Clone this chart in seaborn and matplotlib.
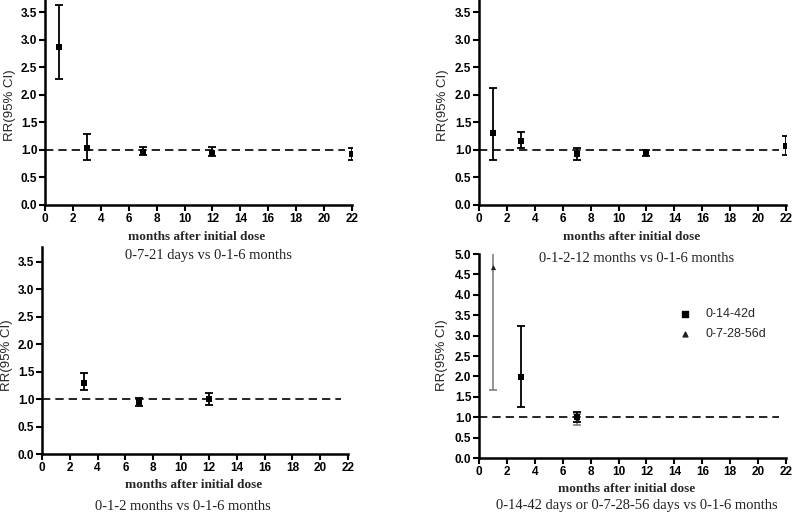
import matplotlib
matplotlib.use("Agg")
import matplotlib.pyplot as plt
import pandas as pd
import seaborn as sns

# Data (RR with 95% CI, months after initial dose)
p1_x = [1, 3, 7, 12, 22]
p1_rr = [2.86, 1.03, 0.97, 0.95, 0.92]
p1_lo = [2.28, 0.82, 0.90, 0.88, 0.82]
p1_hi = [3.63, 1.28, 1.05, 1.06, 1.04]

p2_x = [1, 3, 7, 12, 22]
p2_rr = [1.31, 1.16, 0.92, 0.95, 1.07]
p2_lo = [0.81, 1.03, 0.81, 0.89, 0.90]
p2_hi = [2.12, 1.32, 1.03, 1.00, 1.25]

p3_x = [3, 7, 12]
p3_rr = [1.30, 0.95, 1.00]
p3_lo = [1.17, 0.88, 0.89]
p3_hi = [1.48, 1.02, 1.12]

sq_x = [3, 7]
sq_rr = [1.99, 1.00]
sq_lo = [1.24, 0.88]
sq_hi = [3.24, 1.13]

tri_x = [1, 7]
tri_rr = [4.69, 0.95]
tri_lo = [1.67, 0.81]
tri_hi = [5.60, 1.08]

subtitles = ["0-7-21 days vs 0-1-6 months",
             "0-1-2-12 months vs 0-1-6 months",
             "0-1-2 months vs 0-1-6 months",
             "0-14-42 days or 0-7-28-56 days vs 0-1-6 months"]
legend_labels = ["0-14-42d", "0-7-28-56d"]
ref_value = 1.0

sns.set_style("ticks")
plt.rcParams['font.family'] = ['Liberation Sans', 'DejaVu Sans']

fig = plt.figure(figsize=(7.92, 5.14), dpi=100)

# axes rectangles in figure fractions
rects = [
    [0.0568, 0.6012, 0.3876, 0.3988],
    [0.6048, 0.6012, 0.3876, 0.3988],
    [0.0530, 0.1167, 0.3864, 0.4027],
    [0.6048, 0.1089, 0.3876, 0.3969],
]
ylims = [3.72, 3.72, 3.77, 5.0]
yticks = [[0, 0.5, 1, 1.5, 2, 2.5, 3, 3.5]] * 3 + [[0, 0.5, 1, 1.5, 2, 2.5, 3, 3.5, 4, 4.5, 5]]


def draw_series(ax, x, rr, lo, hi, marker, color, ecolor, size, lw=1.3):
    df = pd.DataFrame({'x': x, 'rr': rr, 'lo': lo, 'hi': hi})
    ax.errorbar(df['x'], df['rr'],
                yerr=[df['rr'] - df['lo'], df['hi'] - df['rr']],
                fmt='none', ecolor=ecolor, elinewidth=lw, capsize=2.8,
                capthick=lw, zorder=3, clip_on=True)
    sns.scatterplot(data=df, x='x', y='rr', marker=marker, color=color,
                    s=size, edgecolor=color, linewidth=0, ax=ax, zorder=4)


axes = []
for i, r in enumerate(rects):
    ax = fig.add_axes(r)
    ax.set_xlim(0, 22)
    ax.set_ylim(0, ylims[i])
    ax.set_xticks(range(0, 23, 2))
    ax.set_yticks(yticks[i])
    ax.set_yticklabels([f"{v:.1f}" for v in yticks[i]])
    for s in ['top', 'right']:
        ax.spines[s].set_visible(False)
    for s in ['left', 'bottom']:
        ax.spines[s].set_linewidth(1.8)
        ax.spines[s].set_color('black')
    ax.tick_params(axis='both', direction='out', length=4, width=1.5,
                   labelsize=8.5, pad=1.5, colors='black')
    for lab in ax.get_xticklabels() + ax.get_yticklabels():
        lab.set_fontweight('bold')
    ax.plot([0, 21.5], [ref_value, ref_value], color='black', lw=1.2,
            linestyle=(0, (5, 3)), zorder=2)
    axes.append(ax)

draw_series(axes[0], p1_x, p1_rr, p1_lo, p1_hi, 's', 'black', 'black', 24)
draw_series(axes[1], p2_x, p2_rr, p2_lo, p2_hi, 's', 'black', 'black', 24)
draw_series(axes[2], p3_x, p3_rr, p3_lo, p3_hi, 's', 'black', 'black', 24)
draw_series(axes[3], tri_x, tri_rr, tri_lo, tri_hi, '^', '#222222', '#777777', 14, lw=1.1)
draw_series(axes[3], sq_x, sq_rr, sq_lo, sq_hi, 's', 'black', 'black', 24)
for ax in axes:
    ax.set_xlabel("")
    ax.set_ylabel("")
    if ax.get_legend():
        ax.get_legend().remove()

# legend of the last panel
axes[3].scatter([], [], marker='s', color='black', s=18, label=legend_labels[0])
axes[3].scatter([], [], marker='^', color='#222222', s=12, label=legend_labels[1])
axes[3].legend(loc='upper left', bbox_to_anchor=(0.595, 0.79), frameon=False,
               fontsize=9, handletextpad=0.6, labelspacing=0.65, markerscale=1)

# axis labels and panel captions
ylab_pos = [(10, 105), (443, 105), (7, 355), (442, 355)]
xlab_pos = [(197, 237), (632, 237), (194, 485), (627, 489)]
sub_pos = [(208, 255), (637, 258), (183, 506), (637, 506)]
W, H = 792, 514
for i in range(4):
    fig.text(ylab_pos[i][0] / W, 1 - ylab_pos[i][1] / H, "RR(95% CI)",
             rotation=90, ha='center', va='center', fontsize=9.5)
    fig.text(xlab_pos[i][0] / W, 1 - xlab_pos[i][1] / H, "months after initial dose",
             ha='center', va='center', fontsize=9.5, fontweight='bold',
             family='Liberation Serif')
    fig.text(sub_pos[i][0] / W, 1 - sub_pos[i][1] / H, subtitles[i],
             ha='center', va='center', fontsize=10.5, family='Liberation Serif',
             color='#222222')

fig.savefig("out.png", dpi=100)
